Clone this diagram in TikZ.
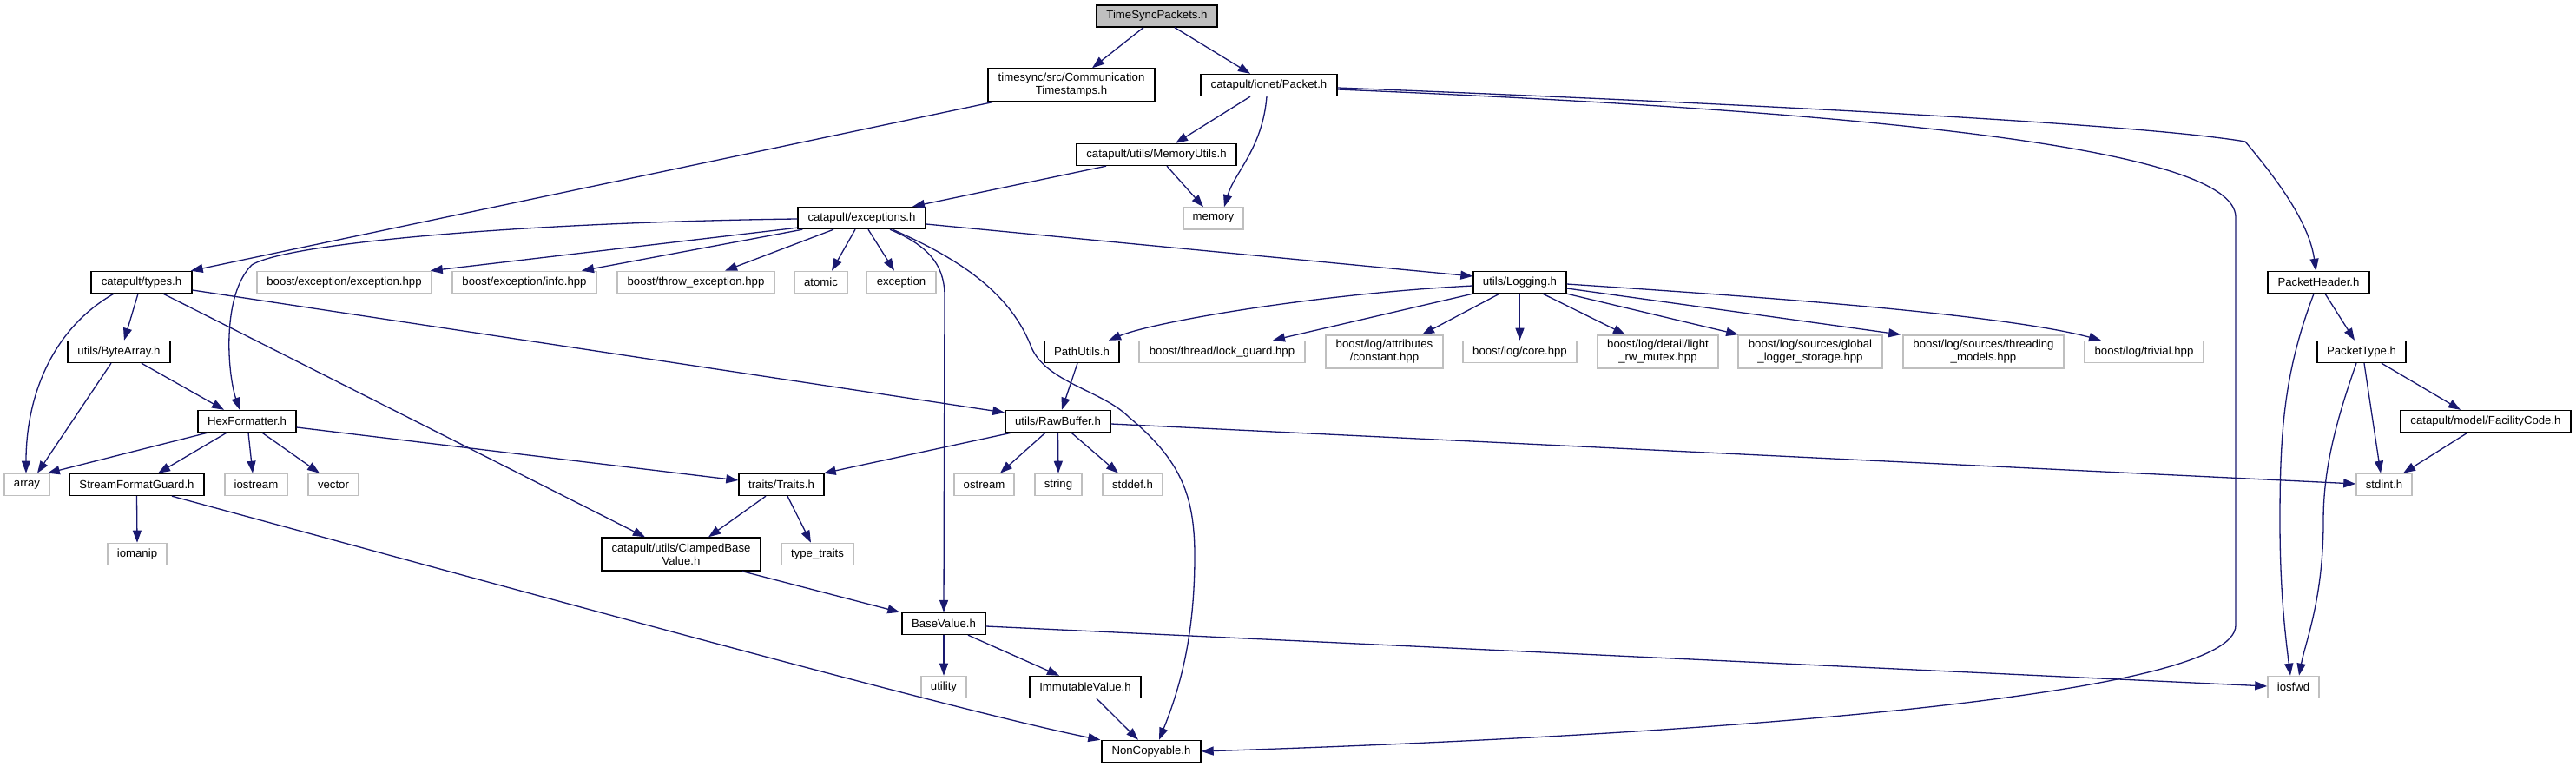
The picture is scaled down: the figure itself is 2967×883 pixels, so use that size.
\documentclass[tikz,border=0pt]{standalone}
\usepackage{fontspec}
\setmainfont{Liberation Sans}
\usetikzlibrary{arrows.meta,calc}
\definecolor{edgecol}{HTML}{191970}
\definecolor{sysgray}{HTML}{BFBFBF}
\begin{document}
\begin{tikzpicture}[x=1pt,y=-1pt,
  base/.style={rectangle, inner sep=0pt, align=center, font=\fontsize{13.2}{15}\selectfont, fill=white},
  doc/.style={base, draw=black, line width=1.4pt},
  sys/.style={base, draw=sysgray, line width=1.6pt},
  root/.style={doc, fill=sysgray},
  sz/.style 2 args={minimum width=#1pt, minimum height=#2pt},
  e/.style={draw=edgecol, line width=1.3pt, -{Triangle[length=14pt,width=10pt]}},
]
\fill[white] (0,0) rectangle (2967,883);
\useasboundingbox (0,0) rectangle (2967,883);

% nodes
\node[root,sz={139}{25}] (ts) at (1332.5,18.5) {TimeSyncPackets.h};
\node[doc,sz={192}{38}] (comm) at (1234,98) {timesync/src/Communication\\Timestamps.h};
\node[doc,sz={157}{25}] (pkt) at (1461.5,98) {catapult/ionet/Packet.h};
\node[doc,sz={184}{25}] (mem) at (1332,178) {catapult/utils/MemoryUtils.h};
\node[sys,sz={69}{25}] (memory) at (1397.5,251.5) {memory};
\node[doc,sz={147}{25}] (exc) at (992.5,251) {catapult/exceptions.h};
\node[doc,sz={116}{25}] (types) at (163,325) {catapult/types.h};
\node[sys,sz={201}{25}] (bexc) at (396.5,325) {boost/exception/exception.hpp};
\node[sys,sz={166}{25}] (binfo) at (604,325) {boost/exception/info.hpp};
\node[sys,sz={181}{25}] (bthrow) at (801.5,325) {boost/throw\_exception.hpp};
\node[sys,sz={61}{25}] (atomic) at (945.5,325) {atomic};
\node[sys,sz={80}{25}] (exception) at (1038,325) {exception};
\node[doc,sz={107}{25}] (logging) at (1750.5,325) {utils/Logging.h};
\node[doc,sz={117}{25}] (pkthdr) at (2670.5,325) {PacketHeader.h};
\node[doc,sz={118}{25}] (bytearr) at (137,405) {utils/ByteArray.h};
\node[doc,sz={86}{25}] (pathu) at (1246,405) {PathUtils.h};
\node[sys,sz={191}{25}] (lockg) at (1407.5,405) {boost/thread/lock\_guard.hpp};
\node[sys,sz={135}{38}] (bconst) at (1594.5,405) {boost/log/attributes\\/constant.hpp};
\node[sys,sz={131}{25}] (bcore) at (1750.5,405) {boost/log/core.hpp};
\node[sys,sz={139}{38}] (blight) at (1909.5,405) {boost/log/detail/light\\\_rw\_mutex.hpp};
\node[sys,sz={166}{38}] (bglobal) at (2085,405) {boost/log/sources/global\\\_logger\_storage.hpp};
\node[sys,sz={185}{38}] (bthread) at (2284.5,405) {boost/log/sources/threading\\\_models.hpp};
\node[sys,sz={137}{25}] (btriv) at (2469.5,405) {boost/log/trivial.hpp};
\node[doc,sz={102}{25}] (pkttype) at (2720,405) {PacketType.h};
\node[doc,sz={113}{25}] (hexf) at (284.5,485) {HexFormatter.h};
\node[doc,sz={121}{25}] (rawbuf) at (1218.5,485) {utils/RawBuffer.h};
\node[doc,sz={196}{25}] (facility) at (2863,485) {catapult/model/FacilityCode.h};
\node[sys,sz={52}{25}] (array) at (31,558) {array};
\node[doc,sz={155}{25}] (sfg) at (157.5,558) {StreamFormatGuard.h};
\node[sys,sz={72}{25}] (iostream) at (295,558) {iostream};
\node[sys,sz={58}{25}] (vector) at (384,558) {vector};
\node[doc,sz={98}{25}] (traits) at (900,558) {traits/Traits.h};
\node[sys,sz={69}{25}] (ostream) at (1133.5,558) {ostream};
\node[sys,sz={54}{25}] (string) at (1219,558) {string};
\node[sys,sz={69}{25}] (stddef) at (1304.5,558) {stddef.h};
\node[sys,sz={64}{25}] (stdint) at (2746,558) {stdint.h};
\node[sys,sz={68}{25}] (iomanip) at (158,638) {iomanip};
\node[doc,sz={183}{38}] (clamped) at (784.5,638) {catapult/utils/ClampedBase\\Value.h};
\node[sys,sz={83}{25}] (typetraits) at (941.5,638) {type\_traits};
\node[doc,sz={96}{25}] (basev) at (1087,718) {BaseValue.h};
\node[sys,sz={52}{25}] (utility) at (1087,791) {utility};
\node[doc,sz={128}{25}] (immut) at (1250,791) {ImmutableValue.h};
\node[sys,sz={59}{25}] (iosfwd) at (2641.5,791) {iosfwd};
\node[doc,sz={114}{25}] (noncopy) at (1326,865) {NonCopyable.h};

% edges
\draw[e] ($(ts.south)+(-15.5,0)$) -- ($(comm.north)+(24,0)$);
\draw[e] ($(ts.south)+(20.5,0)$) -- ($(pkt.north)+(-21.5,0)$);
\draw[e] ($(comm.south)+(-91,0)$) -- ($(types.north east)+(-2,0)$);
\draw[e] ($(pkt.south)+(-21.5,0)$) -- ($(mem.north)+(22,0)$);
\draw[e] ($(pkt.south)+(-2.5,0)$) .. controls +(-5,60) and +(12,-40) .. ($(memory.north)+(12.5,0)$);
\draw[e] ($(pkt.east)+(0,3)$) .. controls (1900,115) and (2450,140) .. (2586,163) .. controls (2630,215) and (2660,260) .. ($(pkthdr.north)+(-3,0)$);
\draw[e] ($(pkt.east)+(0,5)$) .. controls (2150,128) and (2575,170) .. (2575,250) -- (2575,720) .. controls (2575,800) and (2000,845) .. (noncopy.east);
\draw[e] ($(mem.south)+(-58,0)$) -- ($(exc.north)+(58.5,0)$);
\draw[e] ($(mem.south)+(12,0)$) -- ($(memory.north)+(-11.5,0)$);
\draw[e] ($(exc.west)+(0,1)$) .. controls (600,256) and (330,280) .. (290,305) .. controls (255,340) and (262,430) .. ($(hexf.north)+(-8.5,0)$);
\draw[e] ($(exc.south west)+(0,-2)$) -- ($(bexc.north east)+(-2,0)$);
\draw[e] ($(exc.south west)+(6,0)$) -- ($(binfo.north)+(66,0)$);
\draw[e] ($(exc.south)+(-32.5,0)$) -- ($(bthrow.north)+(33.5,0)$);
\draw[e] ($(exc.south)+(-7.5,0)$) -- ($(atomic.north)+(12.5,0)$);
\draw[e] ($(exc.south)+(7.5,0)$) -- ($(exception.north)+(-8,0)$);
\draw[e] ($(exc.south)+(32.5,0)$) .. controls (1075,285) and (1089,310) .. (1088,345) -- (basev.north);
\draw[e] ($(exc.south)+(35.5,0)$) .. controls (1110,300) and (1165,340) .. (1188,400) .. controls (1205,440) and (1270,450) .. (1300,480) .. controls (1360,530) and (1376,570) .. (1376,640) .. controls (1376,730) and (1360,790) .. ($(noncopy.north)+(9,0)$);
\draw[e] ($(exc.east)+(0,7)$) -- ($(logging.west)+(0,-7)$);

\draw[e] ($(types.south)+(-32,0)$) .. controls +(-70,40) and +(0,-90) .. ($(array.north)+(-1,0)$);
\draw[e] ($(types.south)+(-4,0)$) -- ($(bytearr.north)+(6,0)$);
\draw[e] ($(types.south)+(25,0)$) -- ($(clamped.north)+(-41.5,0)$);
\draw[e] ($(types.east)+(0,9)$) -- ($(rawbuf.west)+(0,-10)$);
\draw[e] ($(bytearr.south)+(-9,0)$) -- ($(array.north)+(12,0)$);
\draw[e] ($(bytearr.south)+(26,0)$) -- ($(hexf.north)+(-26.5,0)$);
\draw[e] ($(hexf.south)+(-45.5,0)$) -- ($(array.north east)+(-3,0)$);
\draw[e] ($(hexf.south)+(-23.5,0)$) -- ($(sfg.north)+(24.5,0)$);
\draw[e] ($(hexf.south)+(1.5,0)$) -- ($(iostream.north)+(-4,0)$);
\draw[e] ($(hexf.south)+(17.5,0)$) -- ($(vector.north)+(-16,0)$);
\draw[e] ($(hexf.east)+(0,7)$) -- ($(traits.west)+(0,-5)$);
\draw[e] (sfg.south) -- (iomanip.north);
\draw[e] ($(sfg.south)+(40.5,0)$) .. controls (600,680) and (1100,818) .. ($(noncopy.north west)+(-1,0)$);
\draw[e] ($(traits.south)+(-18,0)$) -- ($(clamped.north)+(31.5,0)$);
\draw[e] ($(traits.south)+(7,0)$) -- ($(typetraits.north)+(-7.5,0)$);
\draw[e] ($(clamped.south)+(70.5,0)$) -- ($(basev.north west)+(-2,0)$);
\draw[e] (basev.south) -- (utility.north);
\draw[e] ($(basev.south)+(28,0)$) -- ($(immut.north)+(-30,0)$);
\draw[e] ($(basev.east)+(0,3)$) -- ($(iosfwd.west)+(0,-1)$);
\draw[e] ($(immut.south)+(13,0)$) -- ($(noncopy.north)+(-15,0)$);

\draw[e] ($(logging.west)+(0,4)$) .. controls (1520,338) and (1330,370) .. ($(pathu.north)+(31,0)$);
\draw[e] (logging.south west) -- ($(lockg.north)+(58.5,0)$);
\draw[e] ($(logging.south)+(-23.5,0)$) -- ($(bconst.north)+(43.5,0)$);
\draw[e] (logging.south) -- (bcore.north);
\draw[e] ($(logging.south)+(26.5,0)$) -- ($(blight.north)+(-37.5,0)$);
\draw[e] (logging.south east) -- ($(bglobal.north west)+(1,0)$);
\draw[e] ($(logging.east)+(0,7)$) -- ($(bthread.north west)+(-2,0)$);
\draw[e] ($(logging.east)+(0,2)$) .. controls (2000,340) and (2300,360) .. ($(btriv.north)+(-49.5,0)$);
\draw[e] ($(pathu.south)+(-5,0)$) -- ($(rawbuf.north)+(4.5,0)$);
\draw[e] ($(rawbuf.south)+(-53.5,0)$) -- ($(traits.north east)+(-1,0)$);
\draw[e] ($(rawbuf.south)+(-14.5,0)$) -- ($(ostream.north)+(18.5,0)$);
\draw[e] (rawbuf.south) -- (string.north);
\draw[e] ($(rawbuf.south)+(15.5,0)$) -- ($(stddef.north)+(-16.5,0)$);
\draw[e] ($(rawbuf.east)+(0,3)$) -- ($(stdint.west)+(0,-1)$);

\draw[e] ($(pkthdr.south)+(7.5,0)$) -- ($(pkttype.north)+(-8,0)$);
\draw[e] ($(pkthdr.south)+(-5.5,0)$) .. controls (2630,430) and (2626,500) .. (2626,600) .. controls (2626,680) and (2632,730) .. ($(iosfwd.north)+(-3.5,0)$);
\draw[e] ($(pkttype.south)+(-6,0)$) .. controls (2685,500) and (2676,550) .. (2676,600) .. controls (2676,690) and (2655,740) .. ($(iosfwd.north)+(6.5,0)$);
\draw[e] ($(pkttype.south)+(3,0)$) -- ($(stdint.north)+(-4,0)$);
\draw[e] ($(pkttype.south)+(23,0)$) -- ($(facility.north)+(-29,0)$);
\draw[e] ($(facility.south)+(-21,0)$) -- ($(stdint.north)+(22,0)$);
\end{tikzpicture}
\end{document}
